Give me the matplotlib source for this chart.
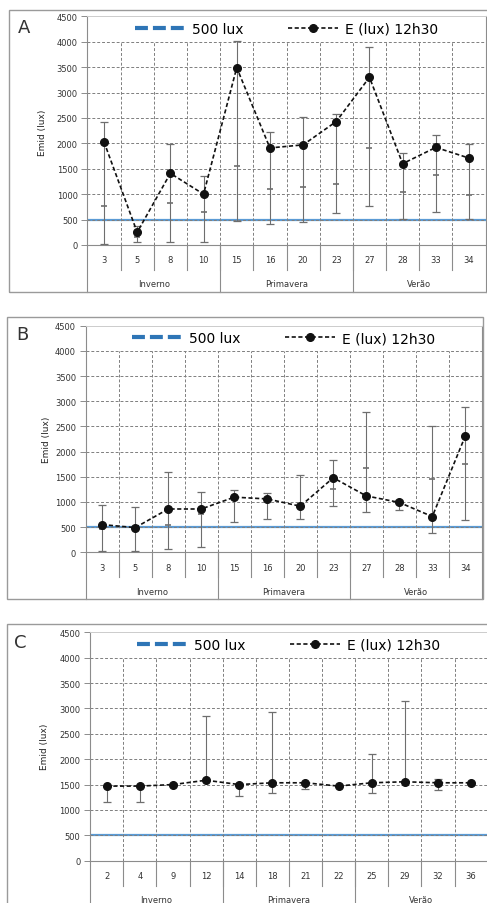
import numpy as np
import matplotlib
matplotlib.use('Agg')
import matplotlib.pyplot as plt
import matplotlib.transforms as mtransforms
from matplotlib.lines import Line2D
from matplotlib.patches import Rectangle

nan = np.nan

threshold = 500
seasons = ['Inverno', 'Primavera', 'Verão']

# panel A
cats_a = ['3', '5', '8', '10', '15', '16', '20', '23', '27', '28', '33', '34']
e_a = [2030, 250, 1410, 1000, 3490, 1910, 1970, 2430, 3300, 1600, 1920, 1710]
hi_a = [2420, 380, 1990, 1360, 4020, 2220, 2510, 2570, 3900, 1820, 2160, 1990]
lo_a = [20, 50, 60, 50, 480, 410, 450, 620, 770, 520, 650, 520]
mid_a = [760, 150, 820, 640, 1550, 1110, 1150, 1200, 1910, 1040, 1380, 990]

# panel B
cats_b = ['3', '5', '8', '10', '15', '16', '20', '23', '27', '28', '33', '34']
e_b = [550, 490, 860, 860, 1095, 1060, 915, 1480, 1120, 990, 710, 2310]
hi_b = [930, 890, 1600, 1190, 1245, 1185, 1545, 1840, 2790, 1030, 2500, 2880]
lo_b = [30, 30, 65, 100, 600, 660, 660, 925, 806, 840, 385, 650]
mid_b = [470, nan, 545, 760, nan, nan, nan, 1265, 1675, nan, 1450, 1745]

# panel C
cats_c = ['2', '4', '9', '12', '14', '18', '21', '22', '25', '29', '32', '36']
e_c = [1470, 1470, 1500, 1585, 1500, 1535, 1535, 1470, 1535, 1555, 1535, 1535]
hi_c = [nan, nan, nan, 2845, nan, 2935, nan, nan, 2100, 3140, 1610, nan]
lo_c = [1160, 1160, nan, nan, 1280, 1330, 1410, nan, 1330, nan, 1400, nan]
mid_c = [nan] * 12

W, H = 487, 904
fig = plt.figure(figsize=(W / 100, H / 100), dpi=100)

GRID = '#7f7f7f'
ERR = '#6e6e6e'
AXC = '#8c8c8c'


def frac_rect(x0, y_top, x1, y_bot):
    return [x0 / W, 1 - y_bot / H, (x1 - x0) / W, (y_bot - y_top) / H]


def draw_panel(plot_px, frame_px, letter, letter_px, ylab_px, cats, e, hi, lo, mid):
    ax = fig.add_axes(frac_rect(*plot_px))
    hpx = plot_px[3] - plot_px[1]
    n = len(cats)
    x = np.arange(n)
    ax.set_xlim(-0.5, n - 0.5)
    ax.set_ylim(0, 4500)

    # gridlines (legend sits in the white band above 4000)
    for yv in range(500, 4001, 500):
        ax.axhline(yv, color=GRID, lw=0.7, ls=(0, (3, 2)), zorder=2)
    for xv in np.arange(0.5, n - 0.5):
        ax.plot([xv, xv], [0, 4000], color=GRID, lw=0.7, ls=(0, (3, 2)), zorder=2)

    ax.axhline(threshold, color='#5b9bd5', lw=1.6, zorder=1.5)

    e = np.array(e, float)
    hi = np.array(hi, float)
    lo = np.array(lo, float)
    top = np.where(np.isnan(hi), e, hi)
    bot = np.where(np.isnan(lo), e, lo)
    ax.vlines(x, bot, top, color=ERR, lw=0.8, zorder=3)
    ax.plot(x, hi, ls='none', marker='_', ms=6, mew=0.9, color=ERR, zorder=3)
    ax.plot(x, lo, ls='none', marker='_', ms=6, mew=0.9, color=ERR, zorder=3)
    ax.plot(x, mid, ls='none', marker='_', ms=4, mew=1.2, color=ERR, zorder=3)

    line, = ax.plot(x, e, color='#111111', lw=1.2, ls=(0, (2.5, 1.5)),
                    marker='o', ms=5.5, label='E (lux) 12h30', zorder=4)
    proxy = Line2D([], [], color='#2e75b6', lw=3, ls=(0, (3.1, 1.2)), label='500 lux')
    ax.legend(handles=[proxy, line], loc='center', bbox_to_anchor=(0.5, 0.945),
              ncol=2, frameon=False, fontsize=10, handlelength=3.6,
              handletextpad=0.5, columnspacing=3.2, borderaxespad=0)

    ax.set_yticks(range(0, 4501, 500))
    ax.set_xticks([])
    ax.tick_params(axis='y', labelsize=6, length=4, width=0.7, color=AXC,
                   labelcolor='#333333', pad=3)
    for s in ['left', 'bottom', 'right']:
        ax.spines[s].set_color(AXC)
        ax.spines[s].set_linewidth(0.8)
    ax.spines['top'].set_color('#cccccc')
    ax.spines['top'].set_linewidth(0.7)

    # two-level category axis
    trans = mtransforms.blended_transform_factory(ax.transData, ax.transAxes)
    for i, c in enumerate(cats):
        ax.text(i, -15 / hpx, c, transform=trans, ha='center', va='center',
                fontsize=6, color='#333333')
    for xv in np.arange(0.5, n - 0.5):
        ax.plot([xv, xv], [0, -25 / hpx], transform=trans, color=AXC, lw=0.8, clip_on=False)
    for xv in [-0.5, 3.5, 7.5, n - 0.5]:
        ax.plot([xv, xv], [0, -47 / hpx], transform=trans, color=AXC, lw=0.8, clip_on=False)
    for k, s in enumerate(seasons):
        ax.text(4 * k + 1.5, -39 / hpx, s, transform=trans, ha='center', va='center',
                fontsize=6, color='#333333')

    fig.text(ylab_px[0] / W, 1 - ylab_px[1] / H, 'Emid (lux)', rotation=90,
             ha='center', va='center', fontsize=6.5, color='#222222')
    fig.text(letter_px[0] / W, 1 - letter_px[1] / H, letter, ha='center', va='center',
             fontsize=13, color='#333333')

    fx0, fy0, fx1, fy1 = frame_px
    fig.add_artist(Rectangle((fx0 / W, 1 - fy1 / H), (fx1 - fx0) / W, (fy1 - fy0) / H,
                             transform=fig.transFigure, fill=False,
                             edgecolor='#9a9a9a', lw=1.0))
    return ax


draw_panel((87.4, 17.3, 485.6, 246), (9, 11, 495, 293), 'A', (24, 28), (43, 133),
           cats_a, e_a, hi_a, lo_a, mid_a)
draw_panel((85.7, 326.7, 481.8, 553.3), (7.3, 318.3, 483, 600), 'B', (22, 335), (47, 440),
           cats_b, e_b, hi_b, lo_b, mid_b)
draw_panel((90.1, 633.3, 487.7, 861.7), (6.7, 625, 495, 910), 'C', (20, 643), (45, 747),
           cats_c, e_c, hi_c, lo_c, mid_c)

fig.savefig('out.png', dpi=100)
